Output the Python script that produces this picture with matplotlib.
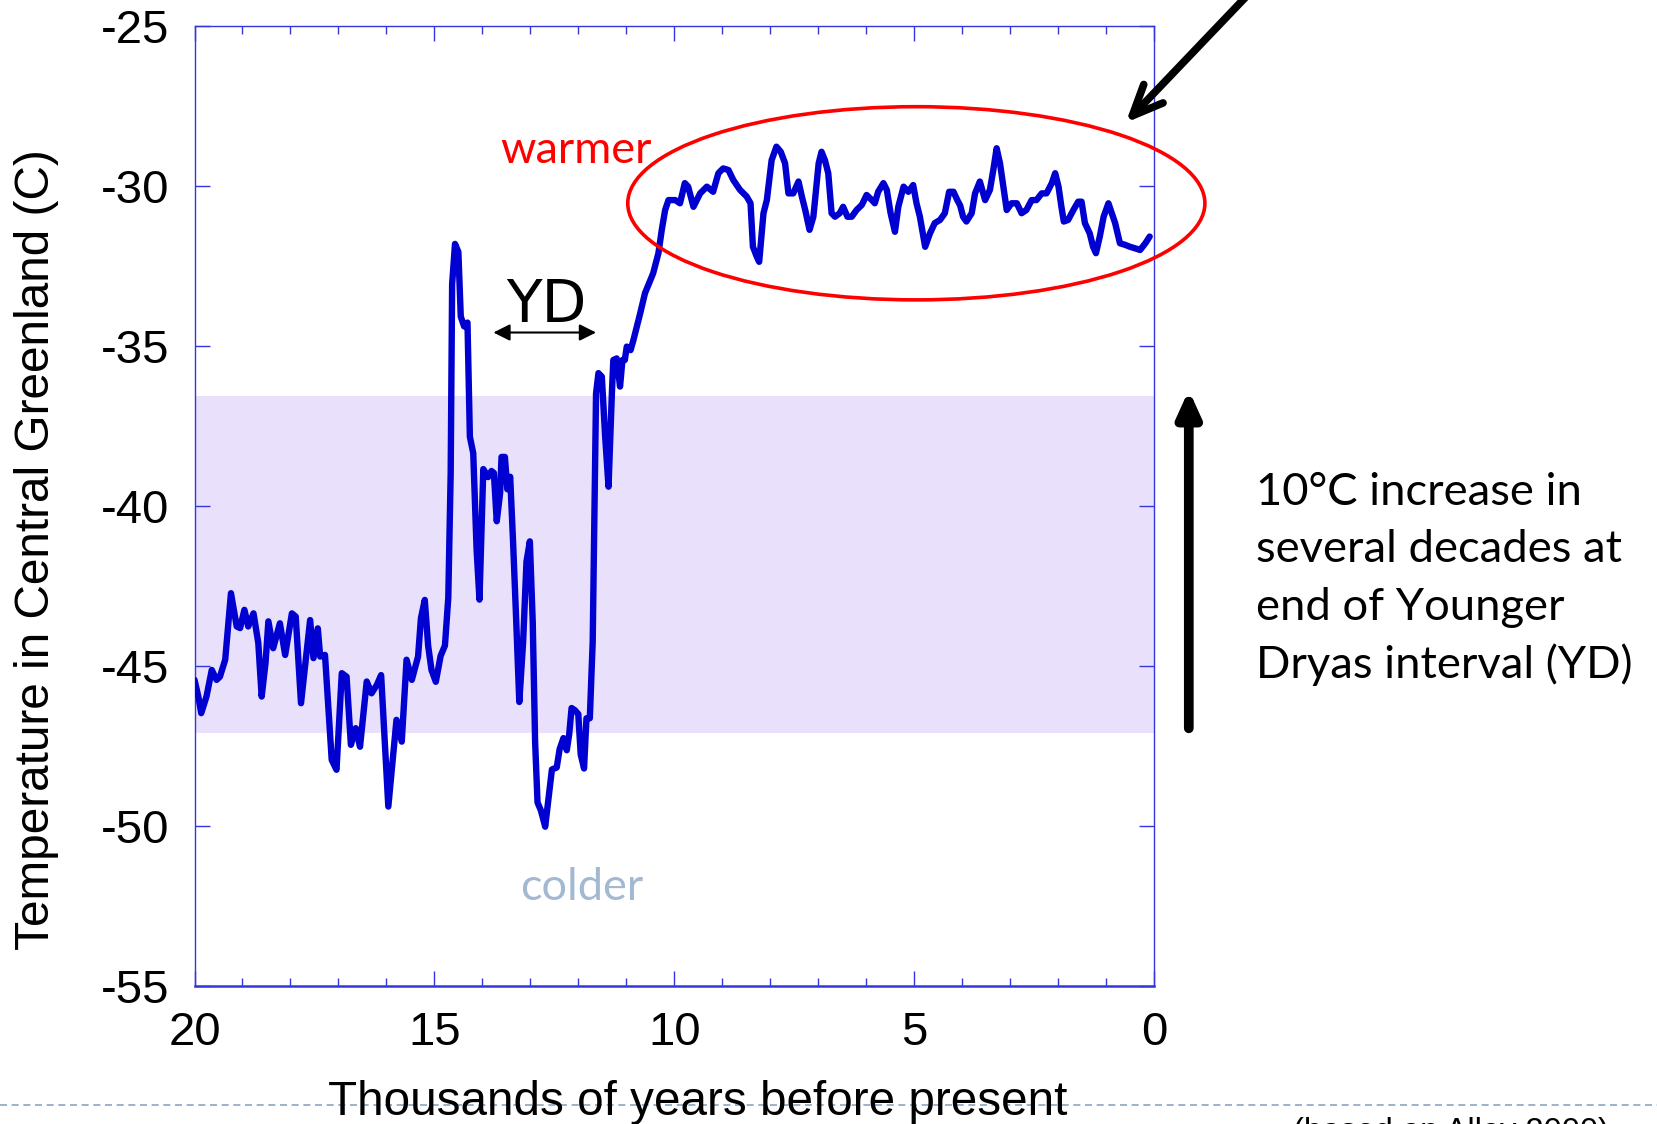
import matplotlib.pyplot as plt
from matplotlib.patches import Ellipse
from matplotlib.lines import Line2D
from matplotlib.ticker import MultipleLocator

# Central Greenland temperature: thousands of years BP, deg C
age_kyr = [20.00, 19.92, 19.86, 19.75, 19.64, 19.54, 19.47, 19.36, 19.24, 19.12,
           19.05, 18.96, 18.88, 18.77, 18.67, 18.60, 18.52, 18.46, 18.36, 18.22,
           18.11, 17.97, 17.89, 17.78, 17.59, 17.52, 17.43, 17.38, 17.28, 17.14,
           17.04, 16.93, 16.83, 16.74, 16.64, 16.55, 16.41, 16.31, 16.20, 16.11,
           15.96, 15.79, 15.68, 15.58, 15.47, 15.34, 15.28, 15.20,
           15.13, 15.06, 14.97, 14.87, 14.78, 14.71, 14.66, 14.63, 14.57, 14.50,
           14.45, 14.38, 14.31, 14.26, 14.19, 14.12, 14.06, 13.98, 13.88, 13.81,
           13.76, 13.70, 13.63, 13.60, 13.53, 13.48, 13.42, 13.36, 13.30, 13.23,
           13.15, 13.08, 13.01, 12.95, 12.90, 12.85, 12.78, 12.69, 12.63, 12.55,
           12.45, 12.39, 12.31, 12.24, 12.19, 12.14, 12.07, 12.00, 11.95, 11.88,
           11.83, 11.76, 11.70, 11.66,
           11.63, 11.58, 11.51, 11.44, 11.37, 11.30, 11.27, 11.20, 11.13, 11.08,
           11.03, 10.99, 10.91, 10.85, 10.71, 10.61, 10.44, 10.33, 10.26, 10.19,
           10.12, 9.98, 9.88, 9.78, 9.71, 9.60, 9.46, 9.32, 9.19, 9.08,
           8.98, 8.87, 8.77, 8.63, 8.49, 8.41, 8.36, 8.28, 8.23,
           8.14, 8.07, 7.97, 7.87, 7.78, 7.69, 7.62, 7.52, 7.41, 7.34,
           7.27, 7.18, 7.10, 6.99, 6.93, 6.86, 6.79, 6.72, 6.65, 6.55,
           6.48, 6.39, 6.30, 6.20, 6.09, 5.99, 5.88, 5.82, 5.75, 5.64,
           5.57, 5.49, 5.40, 5.33, 5.22, 5.12, 5.02, 4.95, 4.88, 4.77,
           4.67, 4.57, 4.46, 4.36, 4.27, 4.18, 4.10,
           4.04, 3.98, 3.91, 3.80, 3.73, 3.63, 3.52, 3.42, 3.35, 3.28,
           3.21, 3.14, 3.07, 2.97, 2.86, 2.76, 2.66, 2.55, 2.45, 2.34,
           2.24, 2.13, 2.06, 1.99, 1.93, 1.88, 1.79, 1.68, 1.58, 1.51,
           1.44, 1.34, 1.27, 1.21, 1.13, 1.05, 0.95, 0.88, 0.81, 0.71,
           0.60, 0.50, 0.39, 0.29, 0.18, 0.09]
temp_c = [-45.43, -45.95, -46.47, -45.95, -45.12, -45.43, -45.33, -44.80, -42.72, -43.76,
          -43.81, -43.24, -43.76, -43.35, -44.28, -45.95, -44.91, -43.60, -44.44, -43.66,
          -44.65, -43.35, -43.45, -46.16, -43.56, -44.75, -43.82, -44.70, -44.65, -47.93,
          -48.24, -45.22, -45.33, -47.46, -46.94, -47.52, -45.48, -45.85, -45.59, -45.28,
          -49.39, -46.68, -47.36, -44.80, -45.43, -44.70, -43.50, -42.93,
          -44.36, -45.12, -45.49, -44.68, -44.36, -42.86, -38.96, -33.06, -31.80, -32.05,
          -34.07, -34.38, -34.26, -37.83, -38.34, -41.35, -42.92, -38.84, -39.09, -38.90,
          -38.96, -40.47, -39.59, -38.46, -38.46, -39.47, -39.08, -41.10, -43.36, -46.12,
          -44.24, -41.73, -41.10, -43.61, -47.38, -49.26, -49.51, -50.02, -49.26, -48.23,
          -48.17, -47.60, -47.25, -47.63, -47.13, -46.31, -46.38, -46.50, -47.76, -48.20,
          -46.63, -46.63, -44.24, -39.84,
          -36.47, -35.84, -35.95, -37.83, -39.39, -36.47, -35.43, -35.38, -36.26, -35.43,
          -35.43, -35.01, -35.12, -34.80, -33.97, -33.34, -32.72, -32.09, -31.36, -30.74,
          -30.43, -30.43, -30.53, -29.90, -30.01, -30.64, -30.22, -30.01, -30.17, -29.59,
          -29.44, -29.49, -29.80, -30.11, -30.32, -30.53, -31.89, -32.20, -32.36,
          -30.84, -30.43, -29.18, -28.76, -28.92, -29.28, -30.22, -30.22, -29.85, -30.32,
          -30.74, -31.36, -30.95, -29.28, -28.92, -29.18, -29.59, -30.84, -30.95, -30.84,
          -30.64, -30.95, -30.95, -30.74, -30.58, -30.27, -30.43, -30.53, -30.17, -29.90,
          -30.11, -30.84, -31.42, -30.64, -30.01, -30.17, -29.96, -30.53, -30.95, -31.89,
          -31.47, -31.15, -31.05, -30.84, -30.17, -30.17, -30.43,
          -30.60, -30.95, -31.10, -30.84, -30.22, -29.85, -30.43, -30.11, -29.49, -28.81,
          -29.28, -30.01, -30.74, -30.53, -30.53, -30.84, -30.74, -30.43, -30.43, -30.22,
          -30.22, -29.90, -29.59, -30.01, -30.64, -31.10, -31.05, -30.74, -30.48, -30.48,
          -31.15, -31.47, -31.89, -32.09, -31.57, -30.95, -30.53, -30.84, -31.15, -31.78,
          -31.83, -31.89, -31.94, -31.99, -31.78, -31.57]

xticks = [20, 15, 10, 5, 0]
yticks = [-25, -30, -35, -40, -45, -50, -55]
glacial_band = (-47.1, -36.55)   # shaded glacial range
yd_span = (13.77, 11.63)         # Younger Dryas arrow
side_note = ["10\u00b0C increase in", "several decades at",
             "end of Younger", "Dryas interval (YD)"]

plt.rcParams['font.family'] = ['Liberation Sans', 'DejaVu Sans']
plt.rcParams['axes.unicode_minus'] = False

W, H = 1657, 1124
fig = plt.figure(figsize=(W / 100, H / 100), dpi=100)
ax = fig.add_axes([194.5 / W, 1 - 986 / H, 959.5 / W, 959.6 / H])

spine_blue = '#3535E0'
ax.axhspan(*glacial_band, color='#E9E1FC', lw=0, zorder=1)
ax.plot(age_kyr, temp_c, color='#0000D0', lw=4.6, zorder=3,
        solid_joinstyle='round', solid_capstyle='round')

ax.set_xlim(20, 0)
ax.set_ylim(-55, -25)
ax.set_xticks(xticks)
ax.set_xticklabels([str(v) for v in xticks])
ax.xaxis.set_minor_locator(MultipleLocator(1))
ax.set_yticks(yticks)
ax.set_yticklabels([str(v) for v in yticks])

ax.tick_params(axis='both', which='both', direction='in', top=True, right=True,
               color=spine_blue, width=1.0, labelsize=34)
ax.tick_params(axis='both', which='major', length=11)
ax.tick_params(axis='x', which='minor', length=5.5)
ax.tick_params(axis='x', which='major', pad=18)
ax.tick_params(axis='y', which='major', pad=18)
for side, sp in ax.spines.items():
    sp.set_color(spine_blue)
    sp.set_linewidth(1.0)
ax.spines['bottom'].set_linewidth(1.8)

# ellipse round the Holocene
ax.add_patch(Ellipse((4.954, -30.53), width=12.03, height=6.04, fill=False,
                     edgecolor='red', lw=2.6, clip_on=False, zorder=4))

ax.text(12.04, -29.28, 'warmer', color='red', fontsize=32.5, family='Lato',
        ha='center', va='baseline', zorder=5)
ax.text(11.92, -52.32, 'colder', color='#A3B9D1', fontsize=32.5, family='Lato',
        ha='center', va='baseline', zorder=5)

ax.text(12.66, -34.25, 'YD', fontsize=42, family='DejaVu Sans',
        ha='center', va='baseline')
ax.annotate('', xy=(yd_span[1], -34.57), xytext=(yd_span[0], -34.57),
            arrowprops=dict(arrowstyle='<|-|>,head_length=0.5,head_width=0.25',
                            mutation_scale=20, lw=1.5, color='black',
                            shrinkA=0, shrinkB=0))

# arrows in figure pixels
ax.annotate('', xy=(1125.7, H - 122.7), xycoords='figure pixels',
            xytext=(1262, H + 20), textcoords='figure pixels',
            arrowprops=dict(arrowstyle='->,head_length=1.1,head_width=0.48',
                            mutation_scale=20, lw=5.5, color='black',
                            shrinkA=0, shrinkB=0),
            annotation_clip=False)
ax.annotate('', xy=(1188.8, H - 390), xycoords='figure pixels',
            xytext=(1188.8, H - 728.3), textcoords='figure pixels',
            arrowprops=dict(arrowstyle='-|>,head_length=0.75,head_width=0.34',
                            mutation_scale=20, lw=7, color='black',
                            shrinkA=0, shrinkB=0),
            annotation_clip=False)

for i, line in enumerate(side_note):
    fig.text(1255.5 / W, 1 - (505 + 57.5 * i) / H, line, fontsize=32.7,
             family='Lato', ha='left', va='baseline')

fig.text(37 / W, 0.511, 'Temperature in Central Greenland (C)', fontsize=34.4,
         rotation=90, ha='center', va='center')

# slide footer
fig.add_artist(Line2D([0, 1], [1 - 1105 / H] * 2, transform=fig.transFigure,
                      color='#9BB2CA', lw=1.4, linestyle=(0, (3.6, 2.4)), zorder=0))
fig.text(697.5 / W, 9 / H, 'Thousands of years before present', fontsize=34.3,
         ha='center', va='baseline', zorder=5)
fig.text(1293 / W, -17 / H, '(based on Alley 2000)', fontsize=23.5,
         ha='left', va='baseline')

fig.savefig('out.png', dpi=100)
